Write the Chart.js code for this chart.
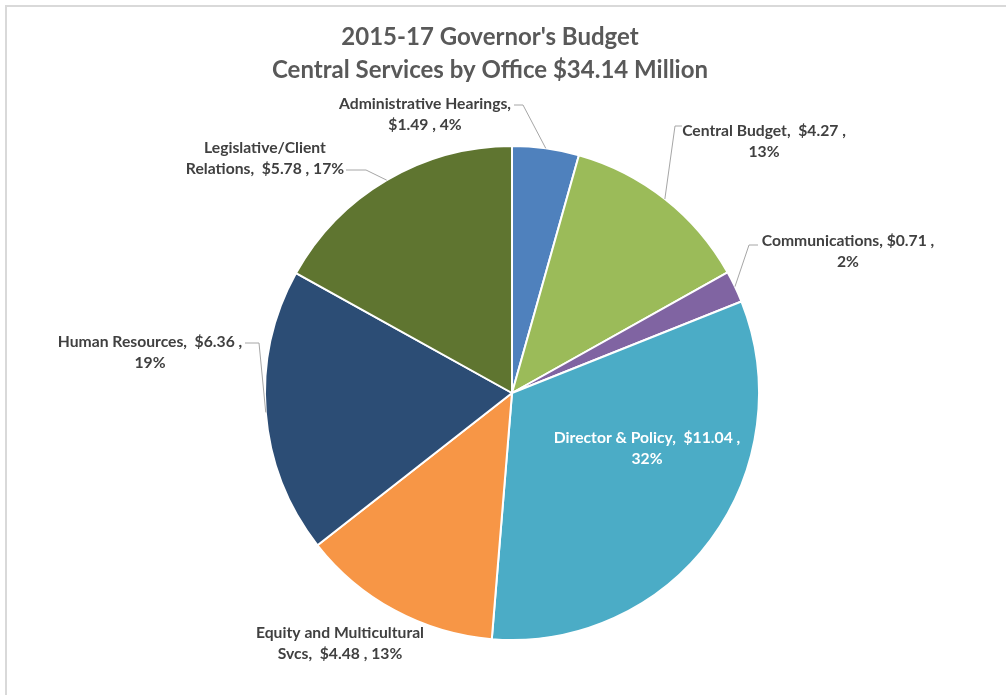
<!DOCTYPE html>
<html>
<head>
<meta charset="utf-8">
<title>Central Services by Office</title>
<script src="https://cdn.jsdelivr.net/npm/chart.js@4/dist/chart.umd.min.js"></script>
<style>
  html, body { margin: 0; padding: 0; background: #ffffff; }
  #wrap { width: 1006px; height: 695px; position: relative; }
</style>
</head>
<body>
<div id="wrap"><canvas id="chart" width="1006" height="695"></canvas></div>
<script>
// Budget by office, $ millions
const offices = [
  "Administrative Hearings",
  "Central Budget",
  "Communications",
  "Director & Policy",
  "Equity and Multicultural Svcs",
  "Human Resources",
  "Legislative/Client Relations"
];
const budgetMillions = [1.49, 4.27, 0.71, 11.04, 4.48, 6.36, 5.78];
const sliceColors = ["#4F81BD", "#9BBB59", "#8064A2", "#4BACC6", "#F79646", "#2C4D75", "#5F7530"];
const titleLines = ["2015-17 Governor's Budget", "Central Services by Office $34.14 Million"];

// Label text: name lines as broken in the callouts
const labelNameParts = [
  ["Administrative Hearings,", ""],
  ["Central Budget,  ", ""],
  ["Communications, ", ""],
  ["Director & Policy,  ", ""],
  ["Equity and Multicultural", "Svcs,  "],
  ["Human Resources,  ", ""],
  ["Legislative/Client", "Relations,  "]
];

// Callout placement: text centre, optional elbow of the leader line and where it meets the text
const calloutLayout = [
  { cx: 425, cy: 104, elbow: [523, 105], textEnd: [514, 105], white: false },
  { cx: 764, cy: 131, elbow: [675, 126], textEnd: [682, 126], white: false },
  { cx: 848, cy: 241, elbow: [749, 245], textEnd: [758, 245], white: false },
  { cx: 647, cy: 438, elbow: null, textEnd: null, white: true },
  { cx: 340, cy: 633, elbow: null, textEnd: null, white: false },
  { cx: 150, cy: 342, elbow: [259, 343], textEnd: [245, 343], white: false },
  { cx: 265, cy: 148, elbow: [366, 170], textEnd: [346, 170], white: false }
];

const total = budgetMillions.reduce((a, b) => a + b, 0);

function labelLines(i) {
  const v = "$" + budgetMillions[i].toFixed(2);
  const pct = Math.round(budgetMillions[i] / total * 100) + "%";
  const p = labelNameParts[i];
  if (i === 0) return [p[0], v + " , " + pct];
  if (i === 4 || i === 6) return [p[0], p[1] + v + " , " + pct];
  return [p[0] + v + " ,", pct];
}

const LABEL_FONT = "bold 15.7px Lato, 'Open Sans', sans-serif";
const LINE_GAP = 21;

const framePlugin = {
  id: "frame",
  beforeDraw(chart) {
    const ctx = chart.ctx;
    ctx.save();
    ctx.fillStyle = "#ffffff";
    ctx.fillRect(0, 0, chart.width, chart.height);
    ctx.strokeStyle = "#d9d9d9";
    ctx.lineWidth = 2;
    ctx.beginPath();
    ctx.moveTo(6, chart.height);
    ctx.lineTo(6, 6);
    ctx.lineTo(chart.width, 6);
    ctx.stroke();
    // title
    ctx.fillStyle = "#595959";
    ctx.font = "bold 24px Lato, 'Open Sans', sans-serif";
    ctx.textAlign = "center";
    ctx.textBaseline = "middle";
    ctx.fillText(titleLines[0], 490, 37);
    ctx.fillText(titleLines[1], 490, 70);
    ctx.restore();
  }
};

const calloutPlugin = {
  id: "callouts",
  afterDatasetsDraw(chart) {
    const ctx = chart.ctx;
    const arcs = chart.getDatasetMeta(0).data;
    ctx.save();
    arcs.forEach((arc, i) => {
      const L = calloutLayout[i];
      const { x, y, startAngle, endAngle, outerRadius } = arc.getProps(["x", "y", "startAngle", "endAngle", "outerRadius"], true);
      const mid = (startAngle + endAngle) / 2;
      if (L.elbow) {
        const ax = x + Math.cos(mid) * outerRadius;
        const ay = y + Math.sin(mid) * outerRadius;
        ctx.strokeStyle = "#a6a6a6";
        ctx.lineWidth = 1;
        ctx.beginPath();
        ctx.moveTo(ax, ay);
        ctx.lineTo(L.elbow[0], L.elbow[1]);
        ctx.lineTo(L.textEnd[0], L.textEnd[1]);
        ctx.stroke();
      }
      ctx.font = LABEL_FONT;
      ctx.fillStyle = L.white ? "#ffffff" : "#404040";
      ctx.textAlign = "center";
      ctx.textBaseline = "middle";
      const lines = labelLines(i);
      lines.forEach((t, k) => ctx.fillText(t, L.cx, L.cy + k * LINE_GAP));
    });
    ctx.restore();
  }
};

new Chart(document.getElementById("chart"), {
  type: "pie",
  data: {
    labels: offices,
    datasets: [{
      data: budgetMillions,
      backgroundColor: sliceColors,
      borderColor: "#ffffff",
      borderWidth: 2
    }]
  },
  options: {
    responsive: false,
    animation: false,
    layout: { padding: { top: 145, bottom: 54, left: 200, right: 182 } },
    plugins: {
      legend: { display: false },
      title: { display: false },
      tooltip: { enabled: false }
    }
  },
  plugins: [framePlugin, calloutPlugin]
});
</script>
</body>
</html>
